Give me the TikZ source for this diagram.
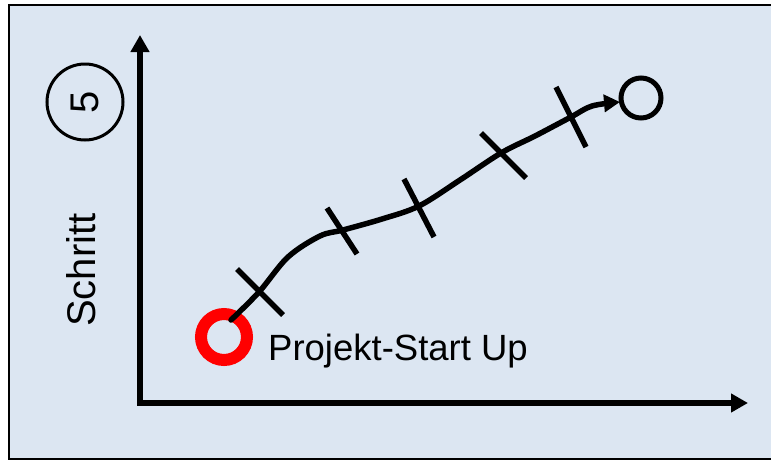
\documentclass[tikz,border=0pt]{standalone}
\usepackage{fontspec}
\setmainfont{Liberation Sans}
\usetikzlibrary{arrows.meta}
\definecolor{bgblue}{HTML}{DCE6F2}
\definecolor{ringred}{HTML}{FF0000}
\tikzset{
  axis/.style={line width=6pt, -{Triangle[length=17pt,width=18pt]}},
  path line/.style={line width=5.5pt, line cap=round, line join=round, -{Triangle[length=16pt,width=17pt]}},
  tick/.style={line width=5.5pt},
  lbl/.style={inner sep=0pt, font=\fontsize{36.5}{40}\selectfont},
}
\begin{document}
\begin{tikzpicture}[x=1pt,y=-1pt]
\useasboundingbox (0,0) rectangle (771,461);
\fill[white] (0,0) rectangle (771,461);
\draw[fill=bgblue, line width=2pt] (9,5) rectangle (780,459);
% axes
\coordinate (origin) at (140,403);
\coordinate (ytip) at (140,35);
\coordinate (xtip) at (748,403);
\draw[axis] ([yshift=3pt]origin) -- (ytip);
\draw[axis] ([xshift=-3pt]origin) -- (xtip);
% axis labels
\node[draw, circle, line width=3pt, minimum size=76pt, inner sep=0pt] (five) at (85,102) {};
\node[inner sep=0pt, rotate=90, font=\fontsize{40}{44}\selectfont] (fivetxt) at (five.center) {5};
\node[lbl, rotate=90, font=\fontsize{40}{44}\selectfont] (schritt) at (81,270) {Schritt};
% start and end
\node[circle, draw=ringred, line width=12pt, minimum size=46pt, inner sep=0pt, outer sep=-6pt] (start) at (224,337) {};
\node[circle, draw, line width=5pt, minimum size=40pt, inner sep=0pt, outer sep=0pt] (finish) at (641,98) {};
\node[lbl, anchor=base west] (startlbl) at (268,360) {Projekt-Start Up};
% milestones
\coordinate (m1) at (259,292);
\coordinate (m2) at (343,230);
\coordinate (m3) at (419,206);
\coordinate (m4) at (501,153);
\coordinate (m5) at (571,117);
\draw[path line] plot[smooth, tension=0.55] coordinates {(231,320) (m1) (288,257) (320,236) (m2) (382,219) (m3) (460,180) (m4) (535,136) (m5) (592,106) (620,102)};
\draw[tick] (m1) ++(-22,-23) -- ++(46,46);
\draw[tick] (m2) ++(-16,-22) -- ++(30,46);
\draw[tick] (m3) ++(-15,-27) -- ++(30,58);
\draw[tick] (m4) ++(-20,-20) -- ++(45,45);
\draw[tick] (m5) ++(-15,-30) -- ++(30,60);
\end{tikzpicture}
\end{document}
